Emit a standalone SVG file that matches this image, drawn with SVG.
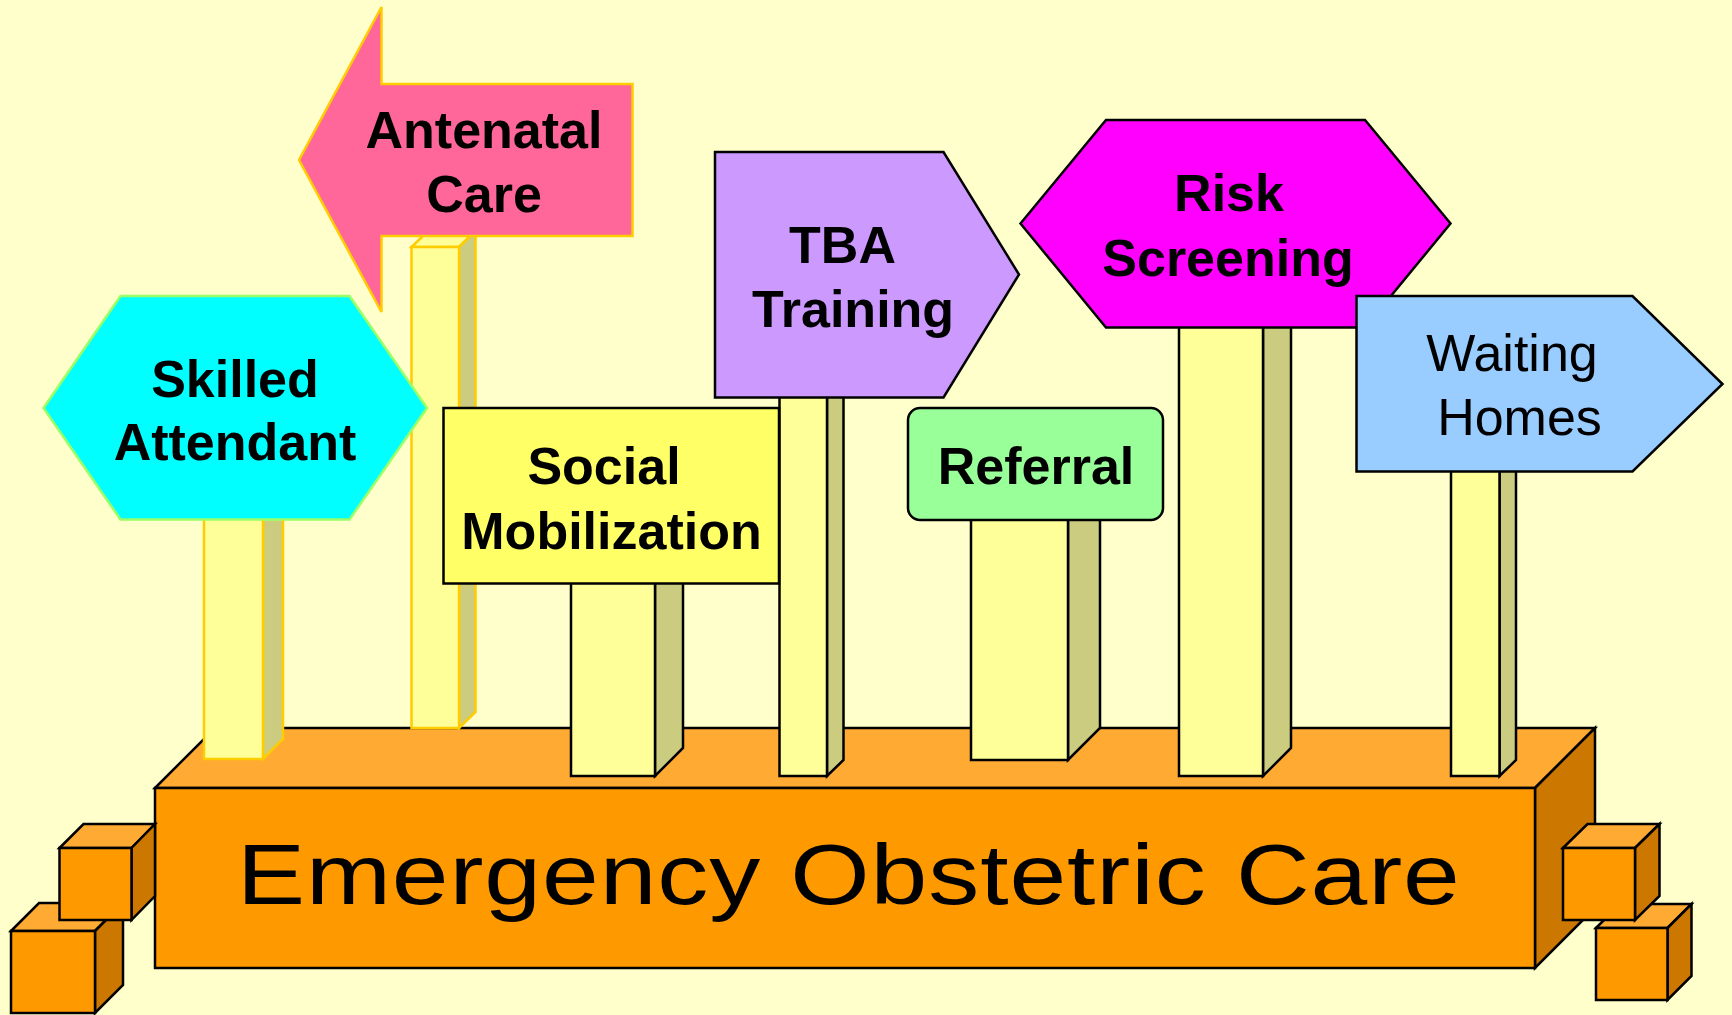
<svg xmlns="http://www.w3.org/2000/svg" width="1732" height="1015" viewBox="0 0 1732 1015">
<style>
.bl{stroke:#000;stroke-width:2.5;stroke-linejoin:miter}
.gd{stroke:#FFCC00;stroke-width:2.5}
.top{fill:#FFAA33}
.front{fill:#FF9900}
.side{fill:#CC7700}
.pf{fill:#FFFF99}
.ps{fill:#CCCC80}
.lbl{font-family:"Liberation Sans",Arial,sans-serif;font-weight:bold;font-size:52px;fill:#000;text-anchor:middle}
.lbr{font-family:"Liberation Sans",Arial,sans-serif;font-weight:normal;font-size:52px;fill:#000;text-anchor:middle}
</style>
<rect x="0" y="0" width="1732" height="1015" fill="#FFFFCC"/>

<g id="base">
  <polygon class="top bl" points="155,788 215,728 1595,728 1535,788"/>
  <polygon class="side bl" points="1535,788 1595,728 1595,908 1535,968"/>
  <rect class="front bl" x="155" y="788" width="1380" height="180"/>
  <text transform="scale(1.2 1)" x="197.5" y="904" font-family="Liberation Sans, Arial, sans-serif" font-size="85" textLength="1019" lengthAdjust="spacing" fill="#000">Emergency Obstetric Care</text>
</g>

<g id="cubes">
  <g id="cube-left-lower">
    <polygon class="top bl" points="11,931 39,903 123,903 95,931"/>
    <polygon class="side bl" points="95,931 123,903 123,985 95,1013"/>
    <rect class="front bl" x="11" y="931" width="84" height="82"/>
  </g>
  <g id="cube-left-upper">
    <polygon class="top bl" points="59.5,848 83.5,824 155,824 131.5,848"/>
    <polygon class="side bl" points="131.5,848 155,824 155,896 131.5,920"/>
    <rect class="front bl" x="59.5" y="848" width="72" height="72"/>
  </g>
  <g id="cube-right-lower">
    <polygon class="top bl" points="1596,928 1620,904 1691.5,904 1667.5,928"/>
    <polygon class="side bl" points="1667.5,928 1691.5,904 1691.5,976 1667.5,1000"/>
    <rect class="front bl" x="1596" y="928" width="71.5" height="72"/>
  </g>
  <g id="cube-right-upper">
    <polygon class="top bl" points="1563,848 1587.5,824 1659.5,824 1635,848"/>
    <polygon class="side bl" points="1635,848 1659.5,824 1659.5,896 1635,920"/>
    <rect class="front bl" x="1563" y="848" width="72" height="72"/>
  </g>
</g>

<g id="posts">
  <g id="post-skilled">
    <polygon class="ps gd" points="263,505 283,485 283,739 263,759"/>
    <rect class="pf gd" x="204" y="505" width="59" height="254"/>
  </g>
  <g id="post-antenatal">
    <polygon class="pf gd" points="411.5,247 459,247 475.5,231 428,231"/>
    <polygon class="ps gd" points="459,247 475.5,231 475.5,712 459,728"/>
    <rect class="pf gd" x="411.5" y="247" width="47.5" height="481"/>
  </g>
  <g id="post-social">
    <polygon class="ps bl" points="655,570 683,542 683,748 655,776"/>
    <rect class="pf bl" x="571" y="570" width="84" height="206"/>
  </g>
  <g id="post-tba">
    <polygon class="ps bl" points="827,390 843.5,374 843.5,760 827,776"/>
    <rect class="pf bl" x="779.5" y="390" width="47.5" height="386"/>
  </g>
  <g id="post-referral">
    <polygon class="ps bl" points="1068,510 1100,478 1100,728 1068,760"/>
    <rect class="pf bl" x="971" y="510" width="97" height="250"/>
  </g>
  <g id="post-risk">
    <polygon class="ps bl" points="1263,320 1291,292 1291,748 1263,776"/>
    <rect class="pf bl" x="1179" y="320" width="84" height="456"/>
  </g>
  <g id="post-waiting">
    <polygon class="ps bl" points="1499.5,460 1516,444 1516,760 1499.5,776"/>
    <rect class="pf bl" x="1451" y="460" width="48.5" height="316"/>
  </g>
</g>

<g id="sign-antenatal">
  <polygon fill="#FF6699" stroke="#FFCC00" stroke-width="2.5" points="381.5,7 299,160 381.5,312 381.5,236 632.5,236 632.5,84 381.5,84"/>
  <text class="lbl" x="484" y="147.5">Antenatal</text>
  <text class="lbl" x="484" y="211.5">Care</text>
</g>

<g id="sign-skilled">
  <polygon fill="#00FFFF" stroke="#99FF66" stroke-width="2.5" points="43.5,408 120.5,296 349.5,296 427,408 349.5,519.5 120.5,519.5"/>
  <text class="lbl" x="235" y="396.5">Skilled</text>
  <text class="lbl" x="235" y="460">Attendant</text>
</g>

<g id="sign-social">
  <rect class="bl" fill="#FFFF66" x="443.5" y="408" width="335.5" height="175.5"/>
  <text class="lbl" x="604" y="484">Social</text>
  <text class="lbl" x="611.5" y="548.5">Mobilization</text>
</g>

<g id="sign-tba">
  <polygon class="bl" fill="#CC99FF" points="715,152 943.5,152 1019,274.5 943.5,397.5 715,397.5"/>
  <text class="lbl" x="842.5" y="262.5">TBA</text>
  <text class="lbl" x="853" y="326.5">Training</text>
</g>

<g id="sign-referral">
  <rect class="bl" fill="#99FF99" x="908" y="408" width="255" height="112" rx="12" ry="12"/>
  <text class="lbl" x="1036" y="483.5">Referral</text>
</g>

<g id="sign-risk">
  <polygon class="bl" fill="#FF00FF" points="1020.5,223.5 1106,120 1365,120 1450.5,223.5 1365,327.5 1106,327.5"/>
  <text class="lbl" x="1229" y="211">Risk</text>
  <text class="lbl" x="1228" y="275.5">Screening</text>
</g>

<g id="sign-waiting">
  <polygon class="bl" fill="#99CCFF" points="1356.5,296 1632.5,296 1722.5,384 1632.5,471.5 1356.5,471.5"/>
  <text class="lbr" x="1512" y="370.5">Waiting</text>
  <text class="lbr" x="1519.5" y="435">Homes</text>
</g>
</svg>
